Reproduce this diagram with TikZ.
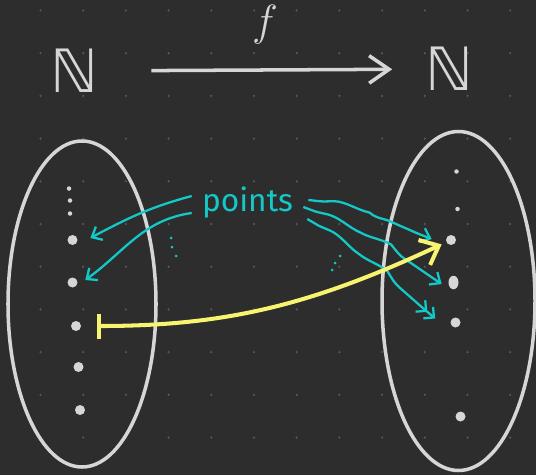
\documentclass[tikz,border=0pt]{standalone}
\usepackage{amssymb}
\usepackage{fontspec}
\usepackage{tikz}
\usetikzlibrary{arrows.meta,decorations.pathmorphing,shapes.geometric}
\definecolor{BoardDark}{HTML}{2D2D2D}
\definecolor{BoardGrid}{HTML}{575757}
\definecolor{ChalkGray}{HTML}{D6D6D6}
\definecolor{ChalkCyan}{HTML}{14C8C8}
\definecolor{ChalkYellow}{HTML}{F8F470}
\newfontfamily\handfont{Fira Sans}
\newfontfamily\setfont{DejaVu Sans}

\begin{document}
\begin{tikzpicture}[
  setline/.style={ChalkGray, line width=2pt},
  setlabel/.style={text=ChalkGray, inner sep=0pt},
  elem/.style={circle, fill=ChalkGray, inner sep=0pt, minimum size=0.2cm},
  tinyelem/.style={circle, fill=ChalkGray, inner sep=0pt, minimum size=0.09cm},
  hintlabel/.style={text=ChalkCyan, inner sep=0.2cm, font=\handfont\fontsize{18}{18}\selectfont},
  hint/.style={ChalkCyan, line width=1.3pt, -{Straight Barb[length=0.17cm,width=0.3cm]}},
  wavy/.style={decorate, decoration={snake, amplitude=0.4mm, segment length=1.3cm, pre length=0.2cm, post length=0.3cm}},
  mapline/.style={ChalkYellow, line width=2.3pt, {Bar[width=0.5cm]}-{Straight Barb[length=0.32cm,width=0.55cm]}}
]
  \fill[BoardDark] (0,0) rectangle (10.72,-9.5);
  \useasboundingbox (0,0) rectangle (10.72,-9.5);
  % dotted board
  \foreach \i in {0,...,11}
    \foreach \j in {0,...,10}
      \fill[BoardGrid] (0.81+0.854*\i,-0.21-0.854*\j) circle (0.025);

  % top row: N --f--> N
  \node[setlabel, font=\setfont\fontsize{34}{34}\selectfont] (dom) at (1.49,-1.42) {ℕ};
  \node[setlabel, font=\setfont\fontsize{34}{34}\selectfont] (cod) at (8.98,-1.38) {ℕ};
  \node[setlabel, font=\fontsize{27}{27}\selectfont] (fname) at (5.3,-0.5) {$f$};
  \draw[setline, -{Straight Barb[length=0.4cm,width=0.55cm]}, shorten <=1.05cm, shorten >=0.65cm] (dom) -- (cod);

  % the two sets
  \draw[setline] (1.64,-6.08) ellipse [x radius=1.48, y radius=3.26];
  \draw[setline] (9.17,-6.02) ellipse [x radius=1.53, y radius=3.39];

  \node[tinyelem] (ldots1) at (1.38,-3.77) {};
  \node[tinyelem] (ldots2) at (1.40,-4.01) {};
  \node[tinyelem] (ldots3) at (1.40,-4.27) {};
  \node[elem] (l1) at (1.45,-4.80) {};
  \node[elem] (l2) at (1.45,-5.65) {};
  \node[elem] (l3) at (1.52,-6.52) {};
  \node[elem] (l4) at (1.57,-7.34) {};
  \node[elem] (l5) at (1.60,-8.20) {};

  \node[tinyelem] (rdots1) at (9.13,-3.43) {};
  \node[tinyelem] (rdots2) at (9.15,-4.18) {};
  \node[elem] (r1) at (9.02,-4.80) {};
  \node[elem, ellipse, minimum height=0.27cm] (r2) at (9.07,-5.65) {};
  \node[elem] (r3) at (9.11,-6.45) {};
  \node[elem] (r4) at (9.21,-8.33) {};

  % cyan notes
  \node[hintlabel] (pts) at (4.95,-4.05) {points};
  \draw[hint] ([yshift=0.13cm]pts.west) to[out=195,in=28] ([xshift=0.25cm,yshift=0.04cm]l1.east);
  \draw[hint] ([yshift=-0.21cm]pts.west) to[out=188,in=36] ([xshift=0.15cm,yshift=0.05cm]l2.east);
  \draw[hint, wavy] ([xshift=0.1cm,yshift=0.05cm]pts.east) to[out=-5,in=159] ([xshift=-0.28cm,yshift=0.02cm]r1.west);
  \draw[hint, wavy] ([yshift=-0.09cm]pts.east) to[out=-20,in=146] ([xshift=-0.13cm,yshift=-0.03cm]r2.west);
  \draw[hint, wavy, -{Straight Barb[length=0.15cm,width=0.3cm]Straight Barb[length=0.15cm,width=0.3cm]}]
    ([xshift=0.08cm,yshift=-0.33cm]pts.east) to[out=-30,in=140] ([xshift=-0.3cm,yshift=0.08cm]r3.west);
  \foreach \x/\y in {3.42/-4.76, 3.44/-4.94, 3.52/-5.12, 6.80/-5.12, 6.70/-5.26, 6.64/-5.40}
    \fill[ChalkCyan] (\x,\y) circle (0.03);

  % the map
  \draw[mapline, shorten <=0.32cm, shorten >=0.1cm] (l3) to[out=0,in=205] (r1);
\end{tikzpicture}
\end{document}
